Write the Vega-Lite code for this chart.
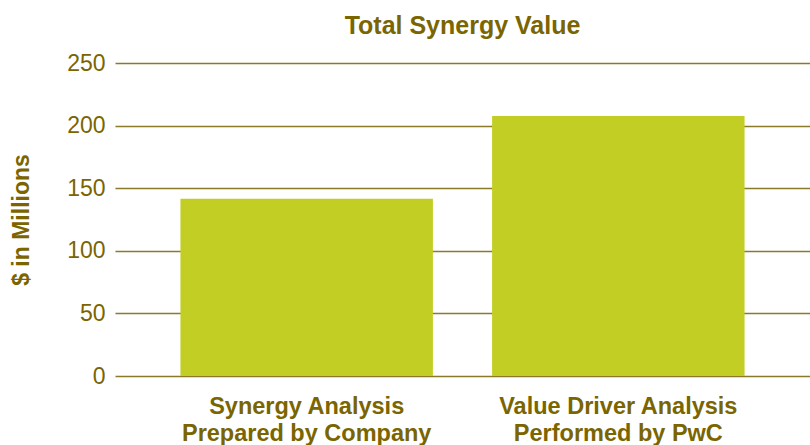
{
  "$schema": "https://vega.github.io/schema/vega-lite/v6.json",
  "autosize": "none",
  "width": 695,
  "height": 313,
  "padding": {"left": 115, "top": 63, "right": 0, "bottom": 69},
  "background": "white",
  "title": {
    "text": "Total Synergy Value",
    "font": "Liberation Sans",
    "fontSize": 25,
    "fontWeight": "bold",
    "color": "#7a6500",
    "anchor": "middle",
    "offset": 13
  },
  "data": {
    "values": [
      {"category": "Synergy Analysis\nPrepared by Company", "value": 141.5},
      {"category": "Value Driver Analysis\nPerformed by PwC", "value": 207.7}
    ]
  },
  "mark": {"type": "bar", "color": "#c2ce23"},
  "encoding": {
    "x": {
      "field": "category",
      "type": "nominal",
      "sort": null,
      "scale": {"paddingInner": 0.19, "paddingOuter": 0.21},
      "axis": {
        "title": null,
        "labelAngle": 0,
        "labelExpr": "split(datum.label, '\\n')",
        "labelFont": "Liberation Sans",
        "labelFontSize": 23.5,
        "labelFontWeight": "bold",
        "labelColor": "#7a6500",
        "labelLineHeight": 27,
        "labelPadding": 18,
        "labelBaseline": "top",
        "labelLimit": 0,
        "domain": false,
        "ticks": false,
        "grid": false
      }
    },
    "y": {
      "field": "value",
      "type": "quantitative",
      "scale": {"domain": [0, 250], "nice": false},
      "axis": {
        "title": "$ in Millions",
        "titleFont": "Liberation Sans",
        "titleFontSize": 23,
        "titleFontWeight": "bold",
        "titleColor": "#7a6500",
        "titlePadding": 33,
        "values": [0, 50, 100, 150, 200, 250],
        "labelFont": "Liberation Sans",
        "labelFontSize": 23,
        "labelColor": "#7a6500",
        "labelPadding": 10,
        "domain": false,
        "ticks": false,
        "grid": true,
        "gridColor": "#8a7a2a",
        "gridWidth": 1.5,
        "gridOpacity": 1
      }
    }
  },
  "config": {"view": {"stroke": null}}
}
